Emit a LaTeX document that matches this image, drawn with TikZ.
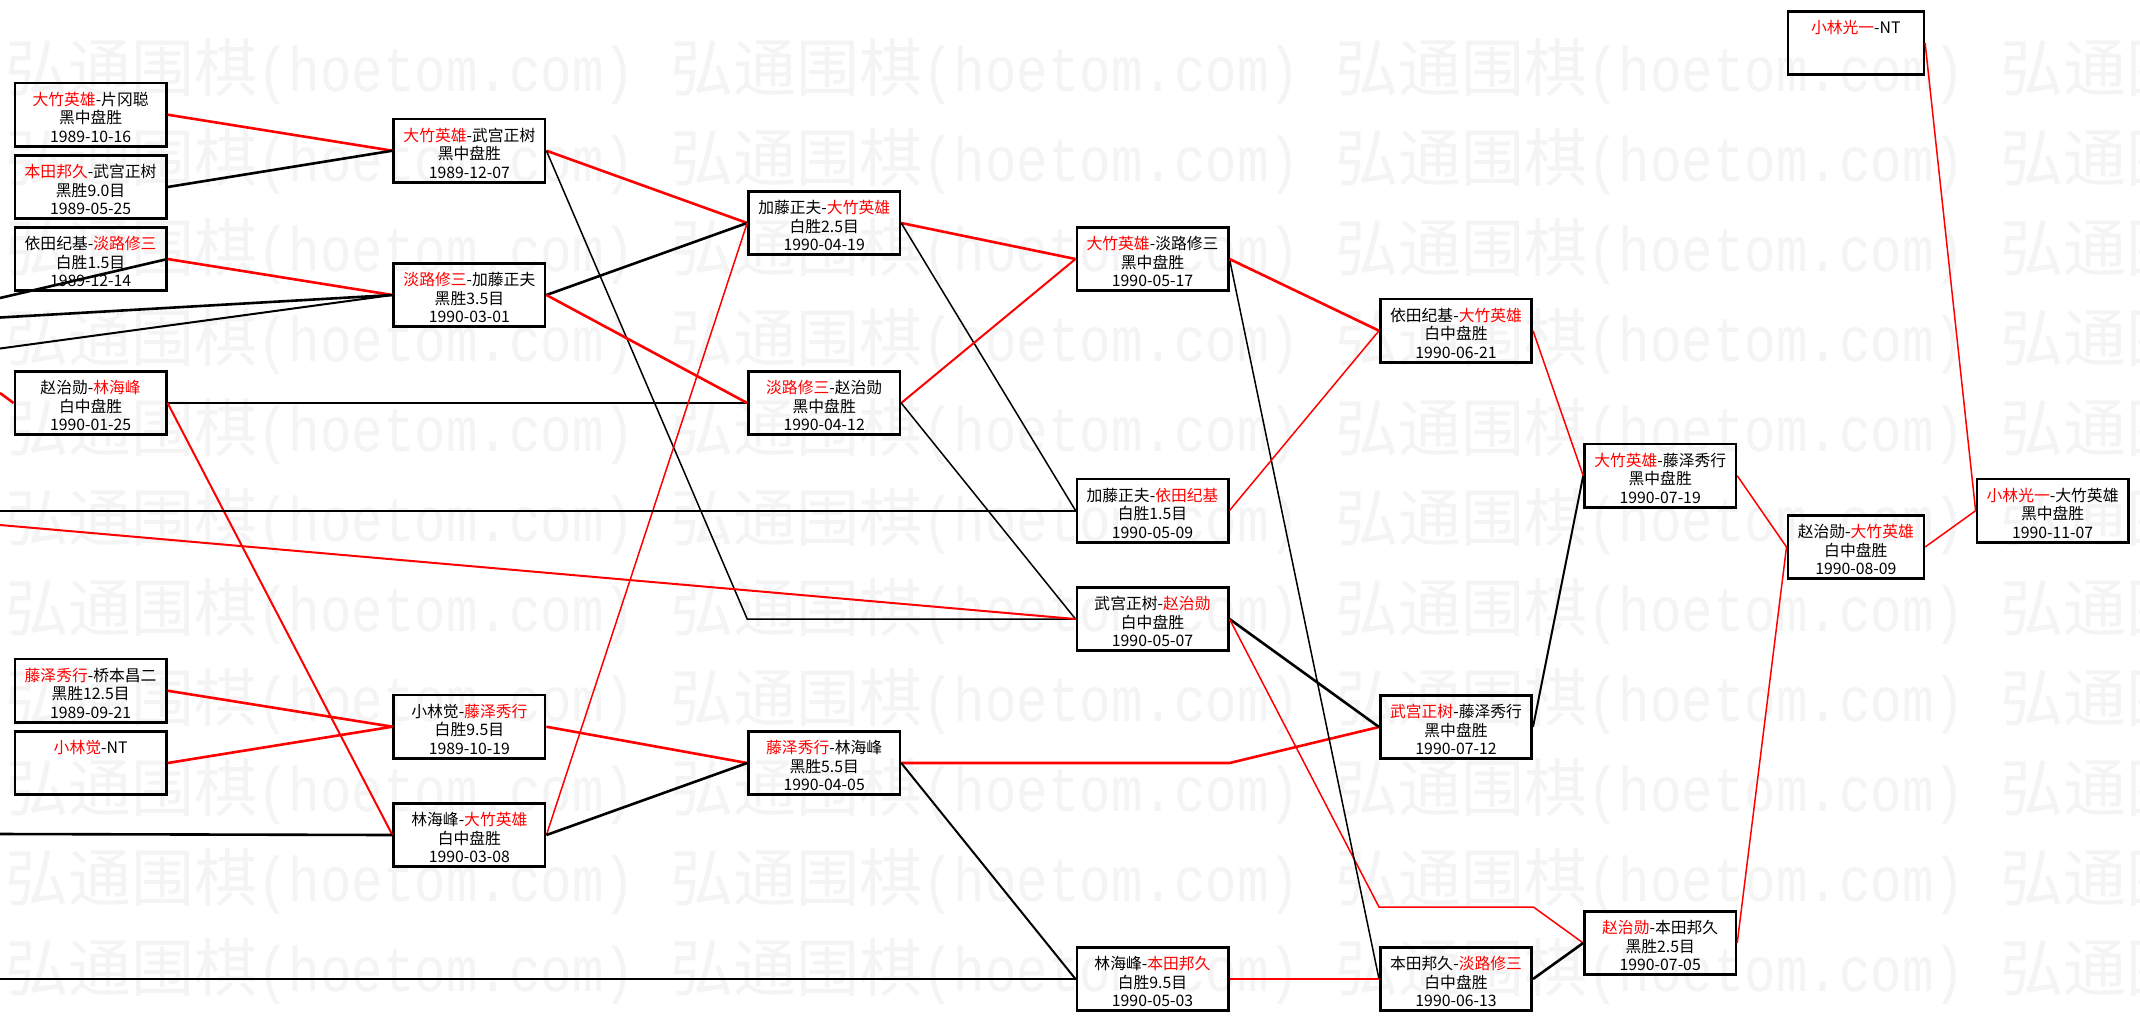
\documentclass[tikz,border=0pt]{standalone}
\usepackage{fontspec}
\usepackage{graphicx}
\setmainfont{Noto Sans CJK SC}
\newfontfamily\wmmono{Liberation Mono}
\definecolor{wm}{RGB}{244,244,244}
\definecolor{lred}{RGB}{255,0,0}
\newcommand\winr[1]{\textcolor{lred}{#1}}
\newcommand\tp{\rule{0pt}{18.5pt}}
\tikzset{
  gbox/.style={draw=black, line width=2.6pt, minimum width=151.4pt, minimum height=63.4pt,
    inner sep=0pt, anchor=north west, align=center, font=\fontsize{15.8}{18.4}\selectfont},
  gnarrow/.style={gbox, minimum width=136pt},
  rl/.style={draw=lred, line width=2.6pt},
  bl/.style={draw=black, line width=2.6pt},
  thinl/.style={line width=1.5pt},
  midl/.style={line width=2pt},
  wmtext/.style={anchor=base west, inner sep=0pt, text=wm, font=\fontsize{63}{63}\selectfont},
}
\begin{document}
\begin{tikzpicture}[x=1pt,y=-1pt]
\fill[white] (0,0) rectangle (2140,1021);
\useasboundingbox (0,0) rectangle (2140,1021);
% watermark
\begin{scope}
\clip (0,0) rectangle (2140,1021);
\foreach \r in {0,...,10}{
  \foreach \c in {0,...,3}{
    \node[wmtext] (wm-\r-\c) at ({5+665*\c},{91+90*\r}) {弘通围棋\scalebox{0.8333}[1]{\wmmono (hoetom.com)}};
  }
}
\end{scope}
% boxes
\node[gbox] (A1) at (13.6,81.7)  {\tp\winr{大竹英雄}-片冈聪\\黑中盘胜\\1989-10-16};
\node[gbox] (A2) at (13.6,154)   {\tp\winr{本田邦久}-武宫正树\\黑胜9.0目\\1989-05-25};
\node[gbox] (A3) at (13.6,226)   {\tp 依田纪基-\winr{淡路修三}\\白胜1.5目\\1989-12-14};
\node[gbox] (A4) at (13.6,370)   {\tp 赵治勋-\winr{林海峰}\\白中盘胜\\1990-01-25};
\node[gbox] (A5) at (13.6,657.7) {\tp\winr{藤泽秀行}-桥本昌二\\黑胜12.5目\\1989-09-21};
\node[gbox] (A6) at (13.6,730)   {\tp\winr{小林觉}-NT\\\phantom{黑中盘胜}\\\phantom{1989-10-16}};
\node[gbox] (B1) at (392.4,117.7) {\tp\winr{大竹英雄}-武宫正树\\黑中盘胜\\1989-12-07};
\node[gbox] (B2) at (392.4,262)   {\tp\winr{淡路修三}-加藤正夫\\黑胜3.5目\\1990-03-01};
\node[gbox] (B3) at (392.4,693.7) {\tp 小林觉-\winr{藤泽秀行}\\白胜9.5目\\1989-10-19};
\node[gbox] (B4) at (392.4,802)   {\tp 林海峰-\winr{大竹英雄}\\白中盘胜\\1990-03-08};
\node[gbox] (C1) at (747.2,190) {\tp 加藤正夫-\winr{大竹英雄}\\白胜2.5目\\1990-04-19};
\node[gbox] (C2) at (747.2,370) {\tp\winr{淡路修三}-赵治勋\\黑中盘胜\\1990-04-12};
\node[gbox] (C3) at (747.2,730) {\tp\winr{藤泽秀行}-林海峰\\黑胜5.5目\\1990-04-05};
\node[gbox] (D1) at (1075.5,226)   {\tp\winr{大竹英雄}-淡路修三\\黑中盘胜\\1990-05-17};
\node[gbox] (D2) at (1075.5,477.5) {\tp 加藤正夫-\winr{依田纪基}\\白胜1.5目\\1990-05-09};
\node[gbox] (D3) at (1075.5,586)   {\tp 武宫正树-\winr{赵治勋}\\白中盘胜\\1990-05-07};
\node[gbox] (D4) at (1075.5,946)   {\tp 林海峰-\winr{本田邦久}\\白胜9.5目\\1990-05-03};
\node[gbox] (E1) at (1379,297.7) {\tp 依田纪基-\winr{大竹英雄}\\白中盘胜\\1990-06-21};
\node[gbox] (E2) at (1379,694)   {\tp\winr{武宫正树}-藤泽秀行\\黑中盘胜\\1990-07-12};
\node[gbox] (E3) at (1379,946)   {\tp 本田邦久-\winr{淡路修三}\\白中盘胜\\1990-06-13};
\node[gbox] (F1) at (1583.2,442.7) {\tp\winr{大竹英雄}-藤泽秀行\\黑中盘胜\\1990-07-19};
\node[gbox] (F2) at (1583.2,910)   {\tp\winr{赵治勋}-本田邦久\\黑胜2.5目\\1990-07-05};
\node[gnarrow] (G0) at (1786.5,10)  {\tp\winr{小林光一}-NT\\\phantom{黑中盘胜}\\\phantom{1989-10-16}};
\node[gnarrow] (G1) at (1786.5,514) {\tp 赵治勋-\winr{大竹英雄}\\白中盘胜\\1990-08-09};
\node[gbox] (H1) at (1975.6,477.7) {\tp\winr{小林光一}-大竹英雄\\黑中盘胜\\1990-11-07};
% free ends and bends
\coordinate (l1) at (0,298);
\coordinate (l2) at (0,317.5);
\coordinate (l3) at (0,348.5);
\coordinate (l4) at (0,393);
\coordinate (l5) at (0,525);
\coordinate (l6) at (0,510.5);
\coordinate (l7) at (0,834);
\coordinate (l8) at (0,979);
\coordinate (f2a) at (1379,907);
\coordinate (f2b) at (1533.4,907);
% connectors
\draw[rl] (A1.east) -- (B1.west);
\draw[bl] (A2.east) -- (B1.west);
\draw[rl] (A3.east) -- (B2.west);
\draw[bl] (l1) -- (A3.east);
\draw[bl] (l2) -- (B2.west);
\draw[bl,midl] (l3) -- (B2.west);
\draw[rl] (l4) -- (A4.west);
\draw[bl] (A4.east) -- (C2.west);
\draw[rl,midl] (A4.east) -- (B4.west);
\draw[rl] (B1.east) -- (C1.west);
\draw[bl,thinl] (B1.east) -- (C2.west |- D3.west) -- (D3.west);
\draw[bl] (B2.east) -- (C1.west);
\draw[rl] (B2.east) -- (C2.west);
\draw[rl,thinl] (B4.east) -- (C1.west);
\draw[rl] (C1.east) -- (D1.west);
\draw[bl,thinl] (C1.east) -- (D2.west);
\draw[rl,midl] (C2.east) -- (D1.west);
\draw[bl,thinl] (C2.east) -- (D3.west);
\draw[rl,midl] (l5) -- (D3.west);
\draw[bl,midl] (l6) -- (D2.west);
\draw[rl] (A5.east) -- (B3.west);
\draw[rl] (A6.east) -- (B3.west);
\draw[bl] (l7) -- (B4.west);
\draw[rl] (B3.east) -- (C3.west);
\draw[bl] (B4.east) -- (C3.west);
\draw[rl] (C3.east) -- (D4.east |- C3.east) -- (E2.west);
\draw[bl,midl] (C3.east) -- (D4.west);
\draw[bl,midl] (l8) -- (D4.west);
\draw[bl] (D3.east) -- (E2.west);
\draw[rl,thinl] (D3.east) -- (f2a) -- (f2b) -- (F2.west);
\draw[bl,thinl] (D1.east) -- (E3.west);
\draw[rl] (D4.east) -- (E3.west);
\draw[bl] (E3.east) -- (F2.west);
\draw[bl,midl] (E2.east) -- (F1.west);
\draw[rl,thinl] (D2.east) -- (E1.west);
\draw[rl] (D1.east) -- (E1.west);
\draw[rl,thinl] (E1.east) -- (F1.west);
\draw[rl,thinl] (F1.east) -- (G1.west);
\draw[rl,thinl] (F2.east) -- (G1.west);
\draw[rl,thinl] (G1.east) -- (H1.west);
\draw[rl,thinl] (G0.east) -- (H1.west);
\end{tikzpicture}
\end{document}
